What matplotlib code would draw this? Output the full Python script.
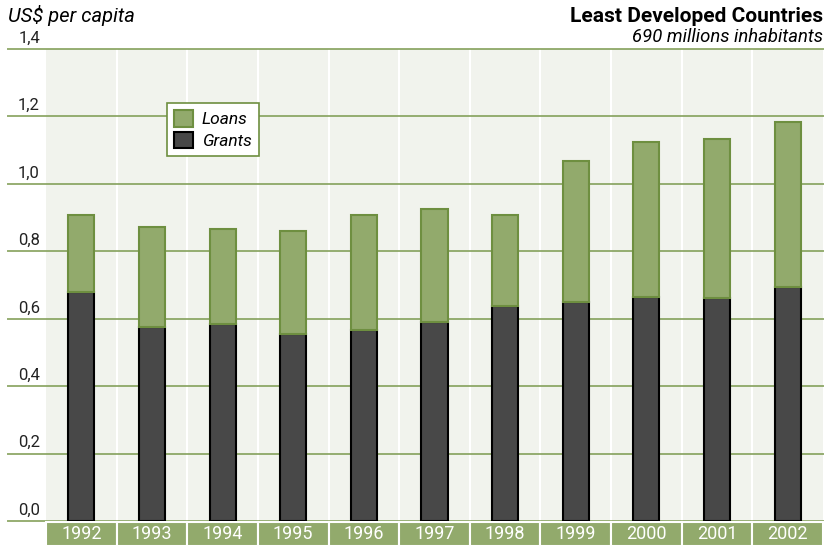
import numpy as np
import matplotlib.pyplot as plt
import matplotlib.patches as mpatches
from matplotlib.transforms import blended_transform_factory

plt.rcParams['font.family'] = ['Roboto', 'DejaVu Sans']

years = ['1992', '1993', '1994', '1995', '1996', '1997', '1998', '1999', '2000', '2001', '2002']
grants = [0.679, 0.575, 0.584, 0.555, 0.567, 0.590, 0.638, 0.650, 0.664, 0.661, 0.694]
totals = [0.908, 0.872, 0.866, 0.860, 0.908, 0.926, 0.908, 1.068, 1.124, 1.133, 1.184]
loans = [t - g for t, g in zip(totals, grants)]
yticks = [0.0, 0.2, 0.4, 0.6, 0.8, 1.0, 1.2, 1.4]

green = '#92aa6c'
green_edge = '#6e8f40'
grid_green = '#84a05a'
dark = '#484848'

W, H = 838, 549
fig = plt.figure(figsize=(W / 100, H / 100), dpi=100)
ax = fig.add_axes([46 / W, 28 / H, 777 / W, 472 / H])

x = np.arange(len(years))
ax.set_xlim(-0.5, len(years) - 0.5)
ax.set_ylim(0, 1.4)
ax.set_facecolor('#f1f3ed')
for s in ax.spines.values():
    s.set_visible(False)
ax.set_xticks([])
ax.set_yticks([])

# white column separators
for i in range(1, len(years)):
    ax.axvline(i - 0.5, color='white', lw=1.5, zorder=1)

# horizontal grid lines extending into left margin
for v in yticks:
    ax.axhline(v, xmin=-38 / 777, xmax=1, color=grid_green, lw=1.4, alpha=0.85,
               clip_on=False, zorder=2)
    ax.text(-0.5 - 6 / 70.6, v + 0.01, f'{v:.1f}'.replace('.', ','),
            ha='right', va='bottom', fontsize=12, color='#222222')

bw = 0.37
ax.bar(x, grants, width=bw, color=dark, edgecolor='black', lw=1.5, zorder=3)
ax.bar(x, loans, width=bw, bottom=grants, color=green, edgecolor=green_edge, lw=1.5, zorder=3)

# year label band below the axes
tr = blended_transform_factory(ax.transData, ax.transAxes)
for i, yr in enumerate(years):
    ax.add_patch(mpatches.Rectangle((i - 0.5, -25 / 472), 1, 24 / 472, transform=tr,
                                    facecolor=green, edgecolor='white', lw=1.5,
                                    clip_on=False, zorder=2))
    ax.text(i, -13 / 472, yr, transform=tr, ha='center', va='center',
            color='white', fontsize=13)

handles = [mpatches.Patch(facecolor=green, edgecolor=green_edge, lw=1.5, label='Loans'),
           mpatches.Patch(facecolor=dark, edgecolor='black', lw=1.5, label='Grants')]
leg = fig.legend(handles=handles, loc='upper left', bbox_to_anchor=(167 / W, 1 - 103 / H),
                 frameon=True, fancybox=False, handlelength=1.1, handleheight=1.1,
                 handletextpad=0.5, borderpad=0.4, labelspacing=0.25, borderaxespad=0,
                 prop={'style': 'italic', 'size': 12.5})
leg.get_frame().set_edgecolor(green_edge)
leg.get_frame().set_linewidth(1.2)
leg.get_frame().set_facecolor('white')
leg.get_frame().set_alpha(1)

fig.text(8 / W, 1 - 16 / H, 'US$ per capita', style='italic', fontsize=14.5,
         ha='left', va='center')
fig.text(823 / W, 1 - 16 / H, 'Least Developed Countries', fontweight='bold',
         fontsize=15, ha='right', va='center')
fig.text(823 / W, 1 - 37 / H, '690 millions inhabitants', style='italic',
         fontsize=13.3, ha='right', va='center')

fig.savefig('out.png', dpi=100)
